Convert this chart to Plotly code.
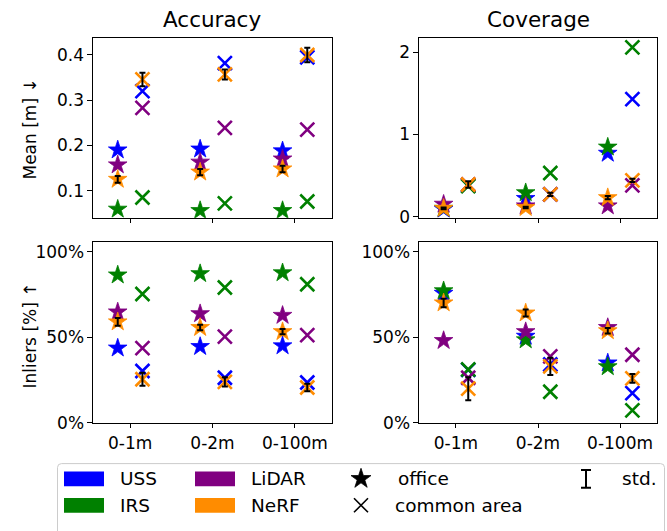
import plotly.graph_objects as go

W, H = 667, 531

# ---------------- data ----------------
categories = ["0-1m", "0-2m", "0-100m"]
methods = ["USS", "IRS", "LiDAR", "NeRF"]
method_colors = ["blue", "green", "purple", "darkorange"]

# Accuracy - mean [m]
acc_mean_office_USS = [0.190, 0.192, 0.188]
acc_mean_office_IRS = [0.059, 0.056, 0.056]
acc_mean_office_LiDAR = [0.157, 0.163, 0.170]
acc_mean_office_NeRF = [0.125, 0.141, 0.148]
acc_mean_common_USS = [0.320, 0.382, 0.395]
acc_mean_common_IRS = [0.085, 0.072, 0.076]
acc_mean_common_LiDAR = [0.283, 0.239, 0.235]
acc_mean_common_NeRF = [0.346, 0.357, 0.400]
acc_mean_std_office = [0.0075, 0.007, 0.007]
acc_mean_std_common = [0.015, 0.011, 0.016]

# Coverage - mean [m]
cov_mean_office_USS = [0.09, 0.22, 0.77]
cov_mean_office_IRS = [0.10, 0.29, 0.845]
cov_mean_office_LiDAR = [0.15, 0.13, 0.13]
cov_mean_office_NeRF = [0.10, 0.11, 0.23]
cov_mean_common_USS = [0.38, 0.27, 1.43]
cov_mean_common_IRS = [0.37, 0.53, 2.06]
cov_mean_common_LiDAR = [0.39, 0.27, 0.38]
cov_mean_common_NeRF = [0.39, 0.27, 0.44]
cov_mean_std_office = [0.01, 0.01, 0.02]
cov_mean_std_common = [0.04, 0.02, 0.02]

# Accuracy - inliers [%]
acc_inl_office_USS = [43.7, 44.6, 45.0]
acc_inl_office_IRS = [86.4, 87.2, 87.7]
acc_inl_office_LiDAR = [64.8, 63.8, 62.8]
acc_inl_office_NeRF = [59.0, 55.7, 53.3]
acc_inl_common_USS = [30.3, 26.4, 23.6]
acc_inl_common_IRS = [75.3, 79.1, 81.0]
acc_inl_common_LiDAR = [43.7, 50.4, 51.3]
acc_inl_common_NeRF = [25.5, 24.0, 20.7]
acc_inl_std_office = [2.3, 1.6, 1.5]
acc_inl_std_common = [3.8, 2.7, 2.2]

# Coverage - inliers [%]
cov_inl_office_USS = [75.7, 50.6, 35.0]
cov_inl_office_IRS = [77.2, 48.5, 32.8]
cov_inl_office_LiDAR = [48.1, 53.3, 55.7]
cov_inl_office_NeRF = [70.1, 64.2, 53.8]
cov_inl_common_USS = [31.0, 34.1, 17.4]
cov_inl_common_IRS = [31.2, 18.2, 7.3]
cov_inl_common_LiDAR = [26.4, 38.9, 39.8]
cov_inl_common_NeRF = [20.0, 33.0, 26.0]
cov_inl_std_office = [2.5, 2.0, 1.6]
cov_inl_std_common = [6.7, 5.0, 2.6]

mean_ticks_acc = [0.1, 0.2, 0.3, 0.4]
mean_ticks_cov = [0, 1, 2]
inlier_ticks = [0, 50, 100]

legend_label_office = "office"
legend_label_common = "common area"
legend_label_std = "std."

# ---------------- helpers ----------------
FONT = "DejaVu Sans"
TICK_SIZE = 17
OFFSET = 0.15
cat_idx = list(range(len(categories)))
x_office = [i - OFFSET for i in cat_idx]
x_common = [i + OFFSET for i in cat_idx]


def px(x):
    return x / W


def py(y):
    return 1 - y / H


panels = [
    dict(xa="x", ya="y",
         office=[acc_mean_office_USS, acc_mean_office_IRS, acc_mean_office_LiDAR, acc_mean_office_NeRF],
         common=[acc_mean_common_USS, acc_mean_common_IRS, acc_mean_common_LiDAR, acc_mean_common_NeRF],
         so=acc_mean_std_office, sc=acc_mean_std_common),
    dict(xa="x2", ya="y2",
         office=[cov_mean_office_USS, cov_mean_office_IRS, cov_mean_office_LiDAR, cov_mean_office_NeRF],
         common=[cov_mean_common_USS, cov_mean_common_IRS, cov_mean_common_LiDAR, cov_mean_common_NeRF],
         so=cov_mean_std_office, sc=cov_mean_std_common),
    dict(xa="x3", ya="y3",
         office=[acc_inl_office_USS, acc_inl_office_IRS, acc_inl_office_LiDAR, acc_inl_office_NeRF],
         common=[acc_inl_common_USS, acc_inl_common_IRS, acc_inl_common_LiDAR, acc_inl_common_NeRF],
         so=acc_inl_std_office, sc=acc_inl_std_common),
    dict(xa="x4", ya="y4",
         office=[cov_inl_office_USS, cov_inl_office_IRS, cov_inl_office_LiDAR, cov_inl_office_NeRF],
         common=[cov_inl_common_USS, cov_inl_common_IRS, cov_inl_common_LiDAR, cov_inl_common_NeRF],
         so=cov_inl_std_office, sc=cov_inl_std_common),
]

STAR_SIZE = 14
X_SIZE = 14

fig = go.Figure()
for p in panels:
    for m, col, vo, vc in zip(methods, method_colors, p["office"], p["common"]):
        fig.add_trace(go.Scatter(
            x=x_office, y=vo, mode="markers", xaxis=p["xa"], yaxis=p["ya"],
            marker=dict(symbol="star", size=STAR_SIZE, color=col, line=dict(width=0.8, color=col)),
            showlegend=False, hoverinfo="skip"))
        fig.add_trace(go.Scatter(
            x=x_common, y=vc, mode="markers", xaxis=p["xa"], yaxis=p["ya"],
            marker=dict(symbol="x-thin-open", size=X_SIZE, color=col, line=dict(width=2.6, color=col)),
            showlegend=False, hoverinfo="skip"))
    # std error bars of NeRF, drawn on top
    nerf_o = p["office"][3]
    nerf_c = p["common"][3]
    for xs, ys, es in ((x_office, nerf_o, p["so"]), (x_common, nerf_c, p["sc"])):
        fig.add_trace(go.Scatter(
            x=xs, y=ys, mode="markers", xaxis=p["xa"], yaxis=p["ya"],
            marker=dict(size=1, opacity=0),
            error_y=dict(type="data", array=es, visible=True, color="black",
                         thickness=2, width=3),
            showlegend=False, hoverinfo="skip"))

# ---------------- legend (manual, matplotlib-like) ----------------
leg_y1, leg_y2 = 488, 515
fig.add_trace(go.Scatter(
    x=[361], y=[leg_y1], mode="markers", xaxis="x5", yaxis="y5",
    marker=dict(symbol="star", size=15, color="black", line=dict(width=0.8, color="black")),
    showlegend=False, hoverinfo="skip"))
fig.add_trace(go.Scatter(
    x=[361], y=[leg_y2], mode="markers", xaxis="x5", yaxis="y5",
    marker=dict(symbol="x-thin-open", size=14, color="black", line=dict(width=1.6, color="black")),
    showlegend=False, hoverinfo="skip"))
fig.add_trace(go.Scatter(
    x=[586], y=[leg_y1], mode="markers", xaxis="x5", yaxis="y5",
    marker=dict(size=1, opacity=0),
    error_y=dict(type="constant", value=9, visible=True, color="black", thickness=2, width=5),
    showlegend=False, hoverinfo="skip"))

shapes = []
annotations = []
# frame with rounded top corners
x0, x1, y0, y1, r = 57.5, 664.5, 472.5, 545, 4
path = (f"M {px(x0)},{py(y1)} L {px(x0)},{py(y0 + r)} "
        f"Q {px(x0)},{py(y0)} {px(x0 + r)},{py(y0)} "
        f"L {px(x1 - r)},{py(y0)} Q {px(x1)},{py(y0)} {px(x1)},{py(y0 + r)} "
        f"L {px(x1)},{py(y1)}")
shapes.append(dict(type="path", xref="paper", yref="paper", path=path, layer="below",
                   line=dict(color="#cccccc", width=1), fillcolor="white"))

legend_cols = [(64, [0, 1]), (195, [2, 3])]
for cx, idxs in legend_cols:
    for row, mi in enumerate(idxs):
        yc = leg_y1 if row == 0 else leg_y2
        shapes.append(dict(type="rect", xref="paper", yref="paper",
                           x0=px(cx), x1=px(cx + 40), y0=py(yc + 7.5), y1=py(yc - 7.5),
                           fillcolor=method_colors[mi], line=dict(width=0)))
        annotations.append(dict(text=methods[mi], xref="paper", yref="paper",
                                x=px(cx + 54), y=py(yc), xanchor="left", yanchor="middle",
                                showarrow=False, font=dict(family=FONT, size=18.5, color="black")))
for txt, xx, yy in ((legend_label_office, 396, leg_y1), (legend_label_common, 393, leg_y2),
                    (legend_label_std, 620, leg_y1)):
    annotations.append(dict(text=txt, xref="paper", yref="paper", x=px(xx), y=py(yy),
                            xanchor="left", yanchor="middle", showarrow=False,
                            font=dict(family=FONT, size=18.5, color="black")))

# titles & axis labels
annotations.append(dict(text="Accuracy", xref="paper", yref="paper", x=px(212.5), y=py(20),
                        xanchor="center", yanchor="middle", showarrow=False,
                        font=dict(family=FONT, size=21.5, color="black")))
annotations.append(dict(text="Coverage", xref="paper", yref="paper", x=px(538), y=py(20),
                        xanchor="center", yanchor="middle", showarrow=False,
                        font=dict(family=FONT, size=21.5, color="black")))
annotations.append(dict(text="Mean [m] ↓", xref="paper", yref="paper", x=px(30), y=py(132),
                        xanchor="center", yanchor="middle", showarrow=False, textangle=-90,
                        font=dict(family=FONT, size=TICK_SIZE, color="black")))
annotations.append(dict(text="Inliers [%] ↑", xref="paper", yref="paper", x=px(30), y=py(342),
                        xanchor="center", yanchor="middle", showarrow=False, textangle=-90,
                        font=dict(family=FONT, size=TICK_SIZE, color="black")))

# ---------------- axes ----------------
colx = [(93, 332), (419, 657)]
rowy = [(39, 222), (247, 431)]

common_ax = dict(showline=True, linecolor="black", linewidth=1.1, mirror=True,
                 ticks="outside", ticklen=4.5, tickwidth=1.1, tickcolor="black",
                 showgrid=False, zeroline=False, fixedrange=True,
                 tickfont=dict(family=FONT, size=TICK_SIZE, color="black"))


def xdom(c):
    return [px(colx[c][0]), px(colx[c][1])]


def ydom(r):
    return [py(rowy[r][1]), py(rowy[r][0])]


xr = [-0.45, 2.45]
layout_axes = {}
for i, (c, r) in enumerate([(0, 0), (1, 0), (0, 1), (1, 1)], start=1):
    k = "" if i == 1 else str(i)
    layout_axes["xaxis" + k] = dict(common_ax, domain=xdom(c), anchor="y" + k, range=xr,
                                    tickmode="array", tickvals=cat_idx, ticktext=categories,
                                    showticklabels=(r == 1))
yax = {
    "yaxis": dict(range=[0.04, 0.437], tickmode="array", tickvals=mean_ticks_acc,
                  ticktext=[f"{v:.1f}" for v in mean_ticks_acc]),
    "yaxis2": dict(range=[-0.015, 2.17], tickmode="array", tickvals=mean_ticks_cov,
                   ticktext=[str(v) for v in mean_ticks_cov]),
    "yaxis3": dict(range=[0, 105.5], tickmode="array", tickvals=inlier_ticks,
                   ticktext=[f"{v}%" for v in inlier_ticks]),
    "yaxis4": dict(range=[0, 105.5], tickmode="array", tickvals=inlier_ticks,
                   ticktext=[f"{v}%" for v in inlier_ticks]),
}
for i, (c, r) in enumerate([(0, 0), (1, 0), (0, 1), (1, 1)], start=1):
    k = "" if i == 1 else str(i)
    layout_axes["yaxis" + k] = dict(common_ax, domain=ydom(r), anchor="x" + k, **yax["yaxis" + k])

layout_axes["xaxis5"] = dict(domain=[0, 1], range=[0, W], visible=False, anchor="y5", fixedrange=True)
layout_axes["yaxis5"] = dict(domain=[0, 1], range=[H, 0], visible=False, anchor="x5", fixedrange=True)

fig.update_layout(
    width=W, height=H, margin=dict(l=0, r=0, t=0, b=0),
    paper_bgcolor="white", plot_bgcolor="rgba(0,0,0,0)",
    font=dict(family=FONT, color="black"),
    shapes=shapes, annotations=annotations, showlegend=False,
    **layout_axes,
)

fig.write_html("out.html", config={"displayModeBar": False})
